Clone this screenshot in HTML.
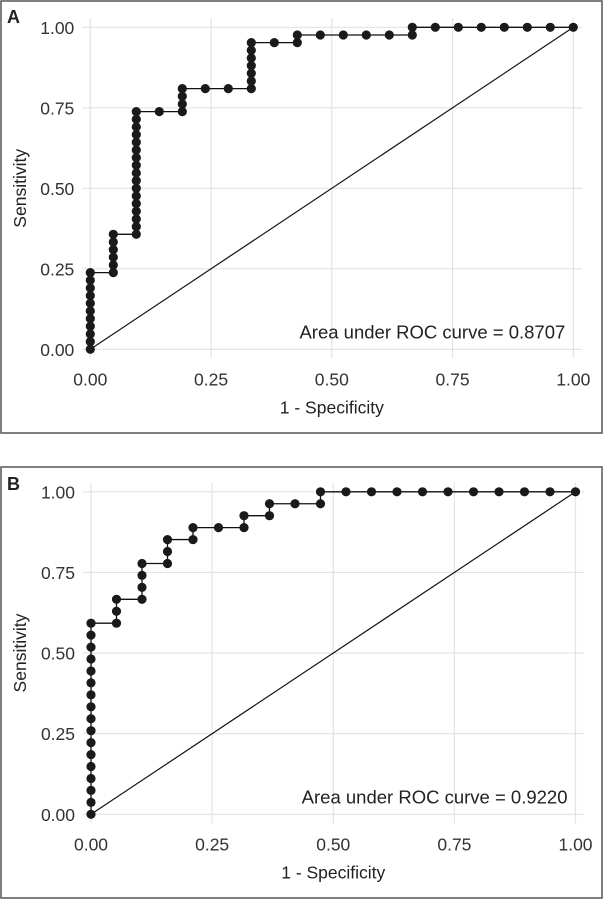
<!DOCTYPE html>
<html><head><meta charset="utf-8"><style>
html,body{margin:0;padding:0;background:#fff;}
svg{display:block;font-family:"Liberation Sans",Arial,sans-serif;}
</style></head><body>
<svg id="chart" width="604" height="900">
<rect x="1" y="1" width="601" height="432" fill="none" stroke="#555" stroke-width="1.5"/>
<rect x="1" y="467" width="601" height="431" fill="none" stroke="#555" stroke-width="1.5"/>
<text x="7" y="23" font-size="18" font-weight="bold" fill="#222">A</text>
<text x="7" y="490" font-size="18" font-weight="bold" fill="#222">B</text>
</svg>
<script>
// Panel A data: false-positive counts (of 21 negatives) and true-positive counts (of 42 positives)
const negA = 21, posA = 42;
const fpA = [0,0,0,0,0,0,0,0,0,0,0, 1,1,1,1,1,1, 2,2,2,2,2,2,2,2,2,2,2,2,2,2,2,2,2, 3, 4,4,4,4, 5, 6, 7,7,7,7,7,7,7, 8, 9,9, 10,11,12,13, 14,14, 15,16,17,18,19,20,21];
const tpA = [0,1,2,3,4,5,6,7,8,9,10, 10,11,12,13,14,15, 15,16,17,18,19,20,21,22,23,24,25,26,27,28,29,30,31, 31, 31,32,33,34, 34, 34, 34,35,36,37,38,39,40, 40, 40,41, 41,41,41,41, 41,42, 42,42,42,42,42,42,42];
const aucA = "0.8707";
// Panel B data: 19 negatives, 27 positives
const negB = 19, posB = 27;
const fpB = [0,0,0,0,0,0,0,0,0,0,0,0,0,0,0,0,0, 1,1,1, 2,2,2,2, 3,3,3, 4,4, 5, 6,6, 7,7, 8, 9,9, 10,11,12,13,14,15,16,17,18,19];
const tpB = [0,1,2,3,4,5,6,7,8,9,10,11,12,13,14,15,16, 16,17,18, 18,19,20,21, 21,22,23, 23,24, 24, 24,25, 25,26, 26, 26,27, 27,27,27,27,27,27,27,27,27,27];
const aucB = "0.9220";
const ticks = [0, 0.25, 0.5, 0.75, 1];
const tickLabels = ["0.00","0.25","0.50","0.75","1.00"];

const NS = "http://www.w3.org/2000/svg";
const svg = document.getElementById('chart');
function mk(tag, attrs, parent){
  const e = document.createElementNS(NS, tag);
  for (const k in attrs) e.setAttribute(k, attrs[k]);
  (parent||svg).appendChild(e); return e;
}
function panel(id, x0, unitX, y0, unitY, fp, tp, nNeg, nPos, auc){
  const g = mk('g', {});
  
  
  const sx = v => x0 + v*unitX, sy = v => y0 - v*unitY;
  ticks.forEach((t,i)=>{
    const gl = mk('line',{x1:x0-8,x2:sx(1)+9,y1:sy(t),y2:sy(t),stroke:'#e3e3e3','stroke-width':1.2},g);
    
    
    const vl = mk('line',{x1:sx(t),x2:sx(t),y1:sy(1)-9,y2:y0+9,stroke:'#e3e3e3','stroke-width':1.2},g);
    
    
    const yl = mk('text',{x:x0-16,y:sy(t)+6.5,'text-anchor':'end','font-size':17.5,fill:'#333'},g);
    yl.textContent = tickLabels[i];
    
    
    const xl = mk('text',{x:sx(t),y:y0+36,'text-anchor':'middle','font-size':17.5,fill:'#333'},g);
    xl.textContent = tickLabels[i];
    
    
  });
  const diag = mk('line',{x1:sx(0),y1:sy(0),x2:sx(1),y2:sy(1),stroke:'#111','stroke-width':1.2},g);
  
  
  let d = '';
  fp.forEach((f,i)=>{ d += (i?'L':'M') + sx(f/nNeg).toFixed(2) + ' ' + sy(tp[i]/nPos).toFixed(2); });
  const line = mk('path',{d:d,fill:'none',stroke:'#111','stroke-width':1.3},g);
  
  
  fp.forEach((f,i)=>{
    const c = mk('circle',{cx:sx(f/nNeg),cy:sy(tp[i]/nPos),r:4.6,fill:'#1a1a1a'},g);
    
    
  });
  const a = mk('text',{x:sx(1)-8,y:y0-11,'text-anchor':'end','font-size':18.5,fill:'#222'},g);
  a.textContent = 'Area under ROC curve = ' + auc;
  
  
  const xt = mk('text',{x:sx(0.5),y:y0+64,'text-anchor':'middle','font-size':17.5,fill:'#222'},g);
  xt.textContent = '1 - Specificity';
  
  
  const cy = sy(0.5);
  const yt = mk('text',{x:26,y:cy,'text-anchor':'middle','font-size':17.5,fill:'#222',transform:'rotate(-90 26 '+cy+')'},g);
  yt.textContent = 'Sensitivity';
  
  
}
panel('a', 90.3, 483, 349.3, 322, fpA, tpA, negA, posA, aucA);
panel('b', 91, 484.5, 814.3, 322.5, fpB, tpB, negB, posB, aucB);
</script>
</body></html>
